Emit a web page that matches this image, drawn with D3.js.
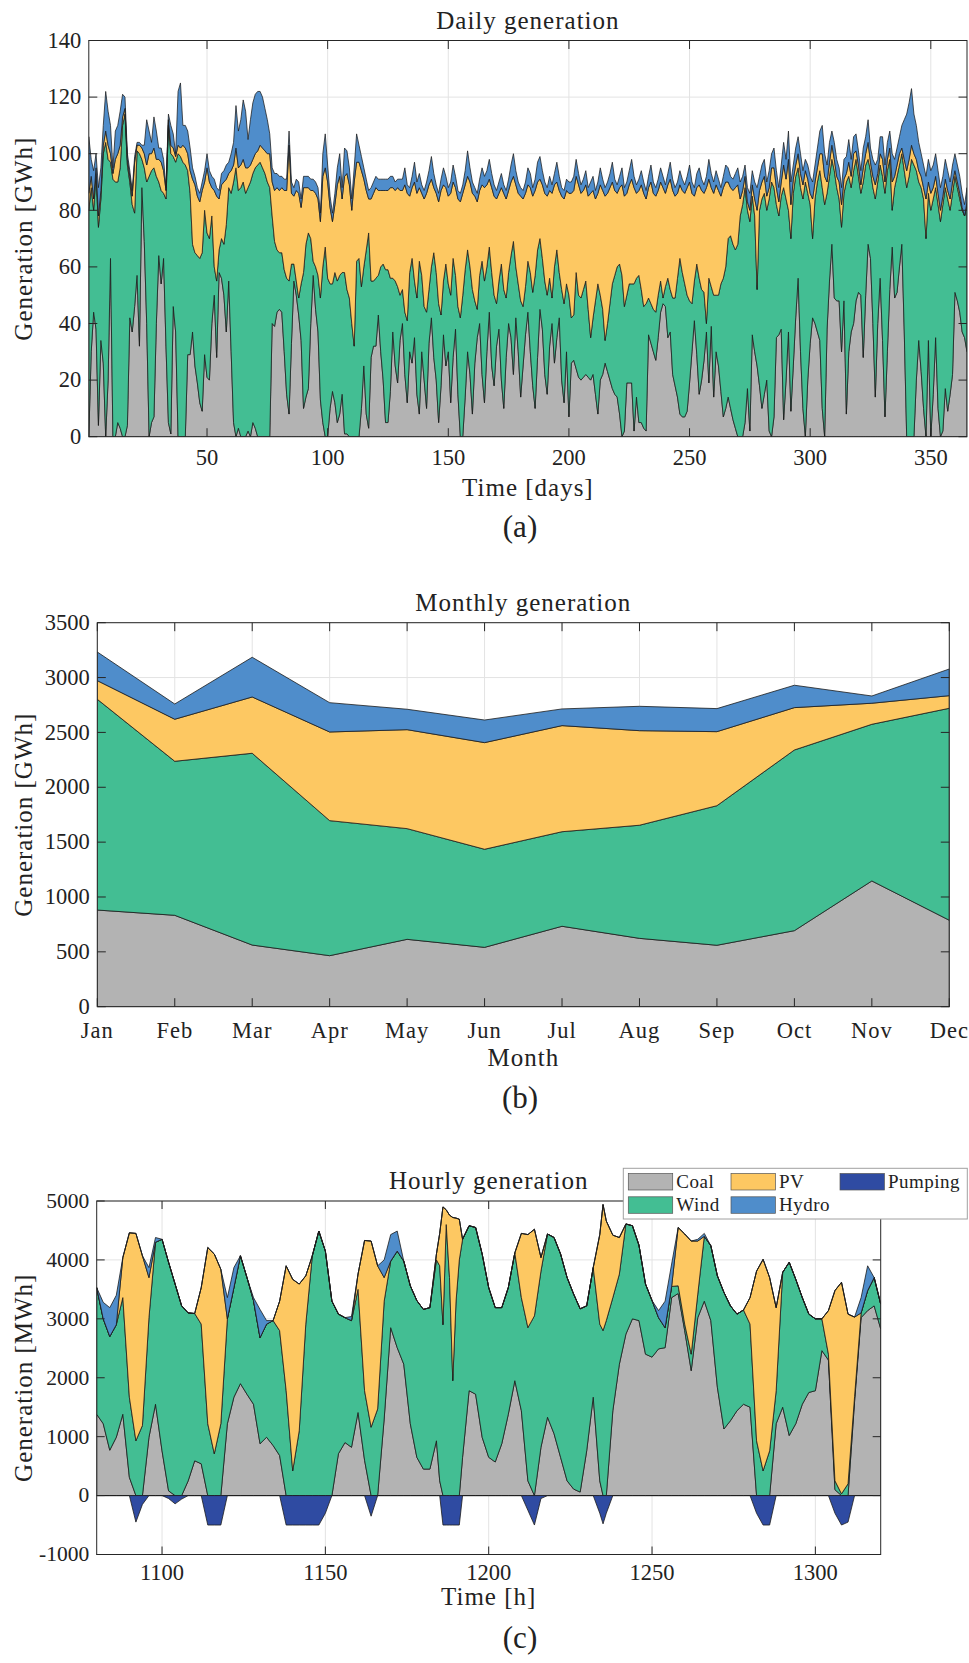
<!DOCTYPE html>
<html>
<head>
<meta charset="utf-8">
<script src="https://cdn.jsdelivr.net/npm/d3@7"></script>
<style>
  body { margin: 0; background: #fff; }
  svg text { font-family: "Liberation Serif", "Times New Roman", serif; fill: #222; }
</style>
</head>
<body>
<svg id="fig" width="969" height="1663"></svg>
<script>
// ---------- (a) daily generation, GWh per day (days 1..365) ----------
const days = d3.range(1, 366);
const coalDaily = [
  0,30,44,38,4,34,26,0,20,63, 0,0,5,3,0,0,4,42,37,46,
  57,32,88,69,40,0,5,7,40,64, 54,63,32,5,1,46,37,0,0,0,
  0,29,29,37,25,19,12,9,29,21, 20,40,50,28,58,56,50,37,55,30,
  5,0,3,0,0,0,2,0,5,3, 0,0,0,0,0,0,40,39,44,45,
  44,30,15,8,33,55,50,43,34,10, 14,17,40,57,45,37,13,5,0,0,
  10,16,12,5,8,15,1,1,0,0, 0,0,0,10,25,8,3,28,32,32, 43,30,20,5,5,16,37,25,19,34,
  40,22,12,30,26,35,15,8,30,20, 10,33,42,28,20,5,18,36,25,30,
  12,28,38,15,0,0,14,30,22,8, 26,35,40,22,12,30,44,25,18,32,
  38,20,10,28,40,35,22,42,30,14, 25,36,44,30,18,10,28,45,38,22, 15,32,40,26,35,42,20,12,30,7,
  26,27,24,21,20,21,22,21,20,22, 15,8,20,22,26,23,20,17,15,14, 8,0,2,19,19,19,2,14,5,5,
  3,2,36,33,30,27,35,44,47,46, 35,37,22,18,14,8,7,7,9,19, 30,41,29,15,20,27,37,19,39,14,
  30,25,16,7,10,14,10,6,3,0,
  0,0,5,17,2,36,30,25,18,10, 15,20,2,0,7,35,36,38,6,20, 37,9,25,42,56,30,10,0,20,33,
  42,40,37,34,10,0,38,55,68,49, 48,48,30,48,8,30,37,40,48,51, 50,28,50,68,63,40,14,40,56,34,
  7,30,52,67,49,51,60,68,37,0, 0,0,0,20,34,23,10,0,34,0, 15,35,10,0,2,17,9,15,22,51,
  48,44,37,35,30
];
const windDaily = [
  80,58,36,55,70,50,74,104,78,34, 91,90,85,92,110,114,92,48,45,33,
  44,68,10,26,50,92,89,88,52,26, 33,23,52,105,99,53,60,100,99,97,
  96,65,57,31,40,45,51,56,51,51, 50,38,10,27,8,14,18,38,33,56,
  85,95,84,88,90,86,86,90,88,92, 96,97,95,93,90,88,38,30,22,20,
  21,29,41,47,28,6,5,6,20,48, 54,55,30,5,15,20,36,55,67,56,
  44,38,46,50,49,43,57,51,49,40, 32,62,63,43,35,58,69,27,23,24, 14,30,41,54,54,40,19,30,34,16,
  12,22,29,28,37,20,34,54,27,26, 34,19,18,37,38,42,25,19,36,24,
  38,35,19,31,42,50,45,36,38,44, 22,10,17,40,43,30,23,33,32,15,
  17,41,42,21,18,29,47,18,24,34, 21,17,18,28,33,47,38,25,25,33, 35,24,9,34,31,16,32,35,24,43,
  16,16,34,29,29,31,33,24,15,20, 33,46,30,23,8,17,27,37,42,46, 53,57,44,31,35,35,52,42,52,47,
  43,45,13,14,15,17,15,11,2,7, 21,15,27,31,42,55,51,47,41,29, 17,14,32,41,32,24,3,37,14,36,
  20,25,38,49,50,56,61,62,63,68,
  78,82,83,63,74,49,48,27,62,74, 71,60,82,90,81,47,42,47,82,64, 43,61,61,50,39,58,74,90,66,49,
  28,44,53,60,78,82,48,37,30,45, 40,36,44,38,82,62,51,54,50,41, 36,62,46,30,31,48,70,50,40,58,
  79,64,46,13,39,41,36,32,57,88, 92,98,96,74,56,65,74,70,52,80, 69,53,72,76,80,71,75,65,64,41,
  40,40,43,43,52
];
const pvDaily = [
  6,4,4,2,4,3,3,4,5,3, 2,8,10,8,3,2,2,2,3,18,
  2,3,4,5,6,8,6,7,6,8, 10,8,3,2,3,3,2,3,3,6,
  6,6,8,23,24,21,20,22,10,23, 20,10,27,30,18,19,22,16,5,8,
  6,7,8,8,8,9,7,6,5,5, 5,6,7,8,10,12,12,18,22,22,
  23,28,31,48,25,24,32,37,27,30, 20,16,17,25,26,27,27,32,28,34,
  27,22,24,34,35,26,34,41,40,40, 58,35,34,41,31,21,12,29,31,32, 30,27,26,28,28,32,32,32,35,37,
  35,45,45,27,25,35,37,26,29,38, 42,37,31,23,28,36,44,34,27,31,
  36,27,31,38,41,36,30,26,30,34, 37,38,30,27,33,29,24,30,35,37,
  31,27,34,35,29,26,23,29,32,37, 38,33,27,30,34,30,24,21,26,31, 35,31,37,29,24,29,33,37,33,36,
  44,44,34,39,37,35,34,40,51,45, 36,32,39,42,51,46,41,36,30,26, 27,32,39,36,35,37,34,30,30,37,
  40,37,39,43,41,41,37,35,39,33, 33,39,38,36,30,26,29,32,38,42, 39,30,27,33,35,35,48,35,35,36,
  39,37,31,32,30,20,17,19,22,21,
  6,5,4,3,4,4,6,28,7,6, 6,5,4,5,7,6,5,5,8,7, 18,12,5,4,5,5,5,4,5,4,
  14,6,5,6,12,10,4,5,5,4, 4,6,8,5,3,5,4,6,3,4, 3,5,4,6,3,4,5,3,4,6,
  4,4,4,10,4,4,4,2,4,6, 6,5,4,4,4,4,4,14,4,6, 4,4,4,4,3,3,3,4,4,2,
  2,2,1,0,1
];
const hydroDaily = [
  20,6,10,5,10,8,7,14,12,10, 2,10,10,12,8,4,2,2,2,2,
  1,1,1,3,16,8,4,11,10,4, 5,4,1,2,7,5,1,19,23,7,
  8,8,8,4,3,3,3,3,4,5, 4,4,4,3,3,4,4,5,4,6,
  8,15,13,16,21,20,10,16,20,21, 21,19,18,15,12,7,5,6,5,5,
  4,4,4,5,4,3,4,4,3,4, 4,4,4,4,4,4,3,8,12,6,
  4,3,4,6,8,4,10,8,6,4, 5,10,6,5,4,4,3,4,4,4, 4,4,4,4,4,4,4,3,3,4,
  4,6,3,3,4,7,4,5,3,3, 4,5,8,5,3,3,4,6,4,3,
  4,6,4,3,3,3,5,9,5,4, 3,3,4,6,4,5,7,5,4,3,
  4,5,3,3,4,6,8,5,4,3, 3,4,6,5,3,4,7,8,5,4, 3,5,3,4,7,5,3,3,4,4,
  4,5,6,4,3,4,5,3,4,5, 3,4,6,4,3,4,5,7,4,3, 4,6,3,4,5,7,4,3,4,5,
  4,3,4,6,4,3,4,5,4,3, 4,6,4,3,4,5,4,3,4,6, 4,3,5,6,4,3,4,7,5,4,
  5,4,3,4,6,5,4,4,5,6,
  6,5,4,5,6,5,6,8,5,6, 6,5,6,5,7,6,5,6,8,7, 10,8,5,6,6,7,5,4,5,6,
  6,6,7,8,10,8,6,7,5,6, 6,5,6,7,6,8,6,6,6,5, 5,7,6,8,5,6,7,5,6,8,
  6,6,6,10,6,6,6,8,14,20, 20,20,14,12,10,8,8,8,8,8, 8,8,8,8,7,7,7,6,6,6,
  6,6,5,4,5
];
const dayTicks = [50, 100, 150, 200, 250, 300, 350];
const gwhDailyTicks = [0, 20, 40, 60, 80, 100, 120, 140];

// ---------- (b) monthly generation, GWh per month ----------
const months = ["Jan","Feb","Mar","Apr","May","Jun","Jul","Aug","Sep","Oct","Nov","Dec"];
const coalMonthly  = [881, 833, 562, 465, 614, 541, 733, 623, 560, 693, 1146, 788];
const windMonthly  = [1921, 1404, 1748, 1231, 1009, 894, 862, 1031, 1272, 1647, 1428, 1932];
const pvMonthly    = [170, 383, 513, 808, 902, 972, 967, 862, 675, 386, 192, 115];
const hydroMonthly = [261, 139, 362, 267, 186, 206, 152, 222, 210, 204, 66, 243];
const gwhMonthlyTicks = [0, 500, 1000, 1500, 2000, 2500, 3000, 3500];

// ---------- (c) hourly generation, MWh per hour ----------
const hours = [
  1080,1082,1084,1086,1088,1090,1092,1094,1096,1098, 1100,1102,1104,1106,1108,1110,1112,1114,1116,1118,
  1120,1122,1124,1126,1128,1130,1132,1134,1136,1138, 1140,1142,1144,1146,1148,1150,1152,1154,1156,1158,
  1160,1162,1164,1166,1168,1170,1172,1174,1176,1178, 1180,1182,1184,
  1185,1186,1187,1188,1189,1190,1191,
  1192,1194,1196,1198,1200,1202,1204,1206,1208,1210, 1212,1214,1216,1218,1220,1222,1224,1226,1228,1230,
  1232,1234,
  1235,
  1236,1238,1240,1242,1244,1246,1248,1250,1252,1254, 1256,1258,1260,1262,1264,1266,1268,1270,1272,1274,
  1276,1278,1280,1282,1284,1286,1288,1290,1292,1294, 1296,1298,1300,1302,1304,1306,1308,1310,1312,1314,
  1316,1318,1320
];
const coalHourly = [
  1380,1220,770,990,1380,310,0,0,990,1550, 760,80,0,0,250,590,540,0,0,0,
  1220,1670,1900,1720,1550,880,990,850,680,0, 0,0,0,0,0,0,0,710,900,820,
  1410,600,0,0,1300,2850,2510,2230,1220,650, 450,450,930,
  250,0,0,0,0,0,0,
  650,1780,1720,990,650,570,880,1380,1950,1440, 250,0,820,1330,1050,650,250,110,60,760,
  1670,250,
  0,
  0,1440,2230,2740,3000,2970,2400,2350,2490,2510, 3360,3430,2800,2120,3020,3300,2970,1840,1130,1270,
  1440,1550,1500,0,0,0,1220,1500,1020,1220, 1550,1750,1780,2460,2300,100,0,0,1600,3020,
  3140,3220,2830
];
const windHourly = [
  2150,1780,1930,1910,1980,1360,930,1190,2030,2750, 3590,3880,3590,3220,2850,2500,2370,1220,710,1220,
  1780,1860,2170,1980,1760,1800,1920,2120,2120,1780, 420,1100,2910,4070,4490,4150,3300,2370,2120,2150,
  2090,1180,1160,1470,2000,1130,1640,1750,2340,2660, 2710,2740,3070,
  3650,2900,4600,3700,1950,3300,4000,
  3700,2800,2830,3110,2880,2620,2310,2150,2170,1920, 2600,3050,2990,3110,3330,3450,3450,3310,3110,2460,
  2200,2660,
  2800,
  2970,1920,1530,1870,1580,1280,1190,960,530,340, 190,130,110,280,400,1100,1270,1890,2320,1950,
  1640,1600,1410,930,420,760,560,2290,2940,2450, 1810,1330,1220,540,100,150,30,200,80,80,
  340,480,420
];
const pvHourly = [
  0,0,0,0,680,2790,3520,2880,680,0, 0,0,0,0,0,0,620,2990,3390,2620,
  0,0,0,0,0,0,0,0,500,2120, 3250,2490,820,0,0,0,0,0,0,0,
  260,2550,3160,2430,400,0,0,0,0,0, 0,0,100,
  550,2000,250,1060,2770,1410,690,
  0,0,0,0,0,0,0,0,0,1090, 1580,1470,230,0,0,0,0,0,0,0,
  0,1520,
  2140,
  1690,1060,620,0,0,0,0,0,0,0, 0,990,1530,1920,900,0,0,0,0,0,
  0,0,450,2880,3590,2940,1410,0,0,0, 0,0,0,0,740,3230,3590,2880,1350,0,
  0,0,0
];
const hydroHourly = [
  0,280,490,500,0,0,0,0,170,80, 0,0,0,0,0,0,0,0,0,0,
  360,340,0,0,50,480,60,0,0,0, 0,0,0,0,0,0,0,0,0,70,
  0,0,0,0,300,450,340,0,0,0, 0,0,0,
  0,0,0,0,0,0,0,
  0,0,0,0,0,0,0,0,0,0, 0,0,0,0,0,0,0,0,0,0,
  0,0,
  0,
  0,0,0,0,0,0,0,0,120,450, 380,0,0,0,30,50,0,0,0,0,
  0,0,0,0,0,0,0,0,0,0, 0,0,0,0,0,0,0,0,0,260,
  420,0,0
];
const pumpingHourly = [
  0,0,0,0,0,0,-450,-150,0,0, 0,-50,-140,-60,0,0,0,-500,-500,-500,
  0,0,0,0,0,0,0,0,0,-500, -500,-500,-500,-500,-500,-300,0,0,0,0,
  0,0,-350,0,0,0,0,0,0,0, 0,0,0,
  0,-500,-500,-500,-500,-500,-500,
  0,0,0,0,0,0,0,0,0,0, -250,-500,-50,0,0,0,0,0,0,0,
  0,-300,
  -480,
  -300,0,0,0,0,0,0,0,0,0, 0,0,0,0,0,0,0,0,0,0,
  0,0,0,-300,-500,-500,0,0,0,0, 0,0,0,0,0,-300,-500,-450,0,0,
  0,0,0
];
const hourTicks = [1100, 1150, 1200, 1250, 1300];
const mwhTicks = [-1000, 0, 1000, 2000, 3000, 4000, 5000];

const seriesNames = { coal: "Coal", wind: "Wind", pv: "PV", hydro: "Hydro", pumping: "Pumping" };
const COLORS = { coal: "#b3b3b3", wind: "#43be93", pv: "#fdc862", hydro: "#4f8dcb", pumping: "#2f4ba2" };
const STACK_KEYS = ["coal", "wind", "pv", "hydro"];

const svg = d3.select("#fig");
const INK = "#262626";

function drawPanel(o) {
  const { left, right, top, bottom } = o.box;
  const g = svg.append("g");
  const x = o.x.copy().range([left, right]);
  const y = o.y.copy().range([bottom, top]);
  const clipId = "clip-" + o.id;
  g.append("clipPath").attr("id", clipId)
    .append("rect").attr("x", left).attr("y", top).attr("width", right - left).attr("height", bottom - top);

  // grid lines behind the areas
  const grid = g.append("g").attr("stroke", "#e3e3e3").attr("stroke-width", 1);
  grid.selectAll("line.gx").data(o.xTicks).join("line").attr("class", "gx")
    .attr("x1", d => x(d)).attr("x2", d => x(d)).attr("y1", top).attr("y2", bottom);
  grid.selectAll("line.gy").data(o.yTicks).join("line").attr("class", "gy")
    .attr("x1", left).attr("x2", right).attr("y1", d => y(d)).attr("y2", d => y(d));

  // stacked sources
  const layers = d3.stack().keys(STACK_KEYS)(o.rows);
  const area = d3.area().x(d => x(d.data.t)).y0(d => y(d[0])).y1(d => y(d[1]));
  const plot = g.append("g").attr("clip-path", `url(#${clipId})`);
  plot.selectAll("path.layer").data(layers).join("path").attr("class", "layer")
    .attr("d", area)
    .attr("fill", d => COLORS[d.key])
    .attr("stroke", "#1c1c1c").attr("stroke-width", o.edge).attr("stroke-linejoin", "round");

  // storage pumping drawn below zero
  if (o.withPumping) {
    const neg = d3.area().x(d => x(d.t)).y0(y(0)).y1(d => y(d.pumping));
    plot.append("path").datum(o.rows).attr("d", neg)
      .attr("fill", COLORS.pumping).attr("stroke", "#1c1c1c")
      .attr("stroke-width", o.edge).attr("stroke-linejoin", "round");
  }

  // axes box with inward ticks on all four sides
  const tl = o.tickLen;
  g.append("rect").attr("x", left).attr("y", top).attr("width", right - left).attr("height", bottom - top)
    .attr("fill", "none").attr("stroke", INK).attr("stroke-width", 1);
  const ticks = g.append("g").attr("stroke", INK).attr("stroke-width", 1);
  o.xTicks.forEach(t => {
    ticks.append("line").attr("x1", x(t)).attr("x2", x(t)).attr("y1", bottom).attr("y2", bottom - tl);
    ticks.append("line").attr("x1", x(t)).attr("x2", x(t)).attr("y1", top).attr("y2", top + tl);
  });
  o.yTicks.forEach(t => {
    ticks.append("line").attr("x1", left).attr("x2", left + tl).attr("y1", y(t)).attr("y2", y(t));
    ticks.append("line").attr("x1", right).attr("x2", right - tl).attr("y1", y(t)).attr("y2", y(t));
  });

  // tick labels
  g.append("g").selectAll("text").data(o.xTicks).join("text")
    .attr("x", d => x(d)).attr("y", bottom + o.xTickDy)
    .attr("text-anchor", "middle").attr("font-size", 22.5)
    .attr("letter-spacing", o.xTickSpacing || 0)
    .text(o.xFormat || (d => d));
  g.append("g").selectAll("text").data(o.yTicks).join("text")
    .attr("x", left - 7.5).attr("y", d => y(d)).attr("dy", "0.32em")
    .attr("text-anchor", "end").attr("font-size", o.yTickSize || 22.5)
    .text(d => d);

  const cx = (left + right) / 2;
  g.append("text").attr("x", cx).attr("y", top - 12).attr("text-anchor", "middle")
    .attr("font-size", 25).attr("letter-spacing", 1).text(o.title);
  g.append("text").attr("x", cx).attr("y", o.xLabelY).attr("text-anchor", "middle")
    .attr("font-size", 25).attr("letter-spacing", 1).text(o.xLabel);
  g.append("text").attr("transform", `translate(32,${(top + bottom) / 2}) rotate(-90)`)
    .attr("text-anchor", "middle").attr("font-size", 25).attr("letter-spacing", 1).text(o.yLabel);
  g.append("text").attr("x", 520).attr("y", o.tagY).attr("text-anchor", "middle")
    .attr("font-size", 31).attr("fill", "#111").text(o.tag);
  return { x, y };
}

// (a) daily
const dailyRows = days.map((t, i) => ({
  t, coal: coalDaily[i], wind: windDaily[i], pv: pvDaily[i], hydro: hydroDaily[i]
}));
drawPanel({
  id: "a", rows: dailyRows,
  box: { left: 88.8, right: 967, top: 40.5, bottom: 436.7 },
  x: d3.scaleLinear().domain([1, 365]), y: d3.scaleLinear().domain([0, 140]),
  xTicks: dayTicks, yTicks: gwhDailyTicks, tickLen: 8.5, edge: 0.75,
  xTickDy: 28.5, xLabelY: 496, tagY: 537,
  title: "Daily generation", xLabel: "Time [days]", yLabel: "Generation [GWh]", tag: "(a)"
});

// (b) monthly
const monthlyRows = months.map((m, i) => ({
  t: i, coal: coalMonthly[i], wind: windMonthly[i], pv: pvMonthly[i], hydro: hydroMonthly[i]
}));
drawPanel({
  id: "b", rows: monthlyRows,
  box: { left: 97.3, right: 949.3, top: 622.7, bottom: 1006.7 },
  x: d3.scaleLinear().domain([0, 11]), y: d3.scaleLinear().domain([0, 3500]),
  xTicks: d3.range(months.length), yTicks: gwhMonthlyTicks, tickLen: 8.5, edge: 0.8,
  xTickDy: 31, xTickSpacing: 1, xFormat: i => months[i], xLabelY: 1066, tagY: 1108,
  title: "Monthly generation", xLabel: "Month", yLabel: "Generation [GWh]", tag: "(b)"
});

// (c) hourly
const hourlyRows = hours.map((t, i) => ({
  t, coal: coalHourly[i], wind: windHourly[i], pv: pvHourly[i], hydro: hydroHourly[i],
  pumping: pumpingHourly[i]
}));
drawPanel({
  id: "c", rows: hourlyRows, withPumping: true,
  box: { left: 96.7, right: 880.7, top: 1201, bottom: 1554.5 },
  x: d3.scaleLinear().domain([1080, 1320]), y: d3.scaleLinear().domain([-1000, 5000]),
  xTicks: hourTicks, yTicks: mwhTicks, tickLen: 8, edge: 0.8, yTickSize: 21.5,
  xTickDy: 25, xLabelY: 1605, tagY: 1648,
  title: "Hourly generation", xLabel: "Time [h]", yLabel: "Generation [MWh]", tag: "(c)"
});

// legend of panel (c): three columns, filled column by column
const legendItems = [
  { key: "coal", col: 0, row: 0 }, { key: "wind", col: 0, row: 1 },
  { key: "pv", col: 1, row: 0 }, { key: "hydro", col: 1, row: 1 },
  { key: "pumping", col: 2, row: 0 }
];
const lg = svg.append("g");
lg.append("rect").attr("x", 623.3).attr("y", 1168.3).attr("width", 344).attr("height", 50.7)
  .attr("fill", "#fff").attr("stroke", "#a0a0a0").attr("stroke-width", 1);
const colX = [628.3, 731, 840];
const rowY = [1173.5, 1196.8];
lg.selectAll("rect.sw").data(legendItems).join("rect").attr("class", "sw")
  .attr("x", d => colX[d.col]).attr("y", d => rowY[d.row])
  .attr("width", 44.4).attr("height", 16.5)
  .attr("fill", d => COLORS[d.key]).attr("stroke", "#555").attr("stroke-width", 0.7);
lg.selectAll("text").data(legendItems).join("text")
  .attr("x", d => colX[d.col] + 48).attr("y", d => rowY[d.row] + 14.5)
  .attr("font-size", 19).attr("letter-spacing", 0.5)
  .text(d => seriesNames[d.key]);
</script>
</body>
</html>
